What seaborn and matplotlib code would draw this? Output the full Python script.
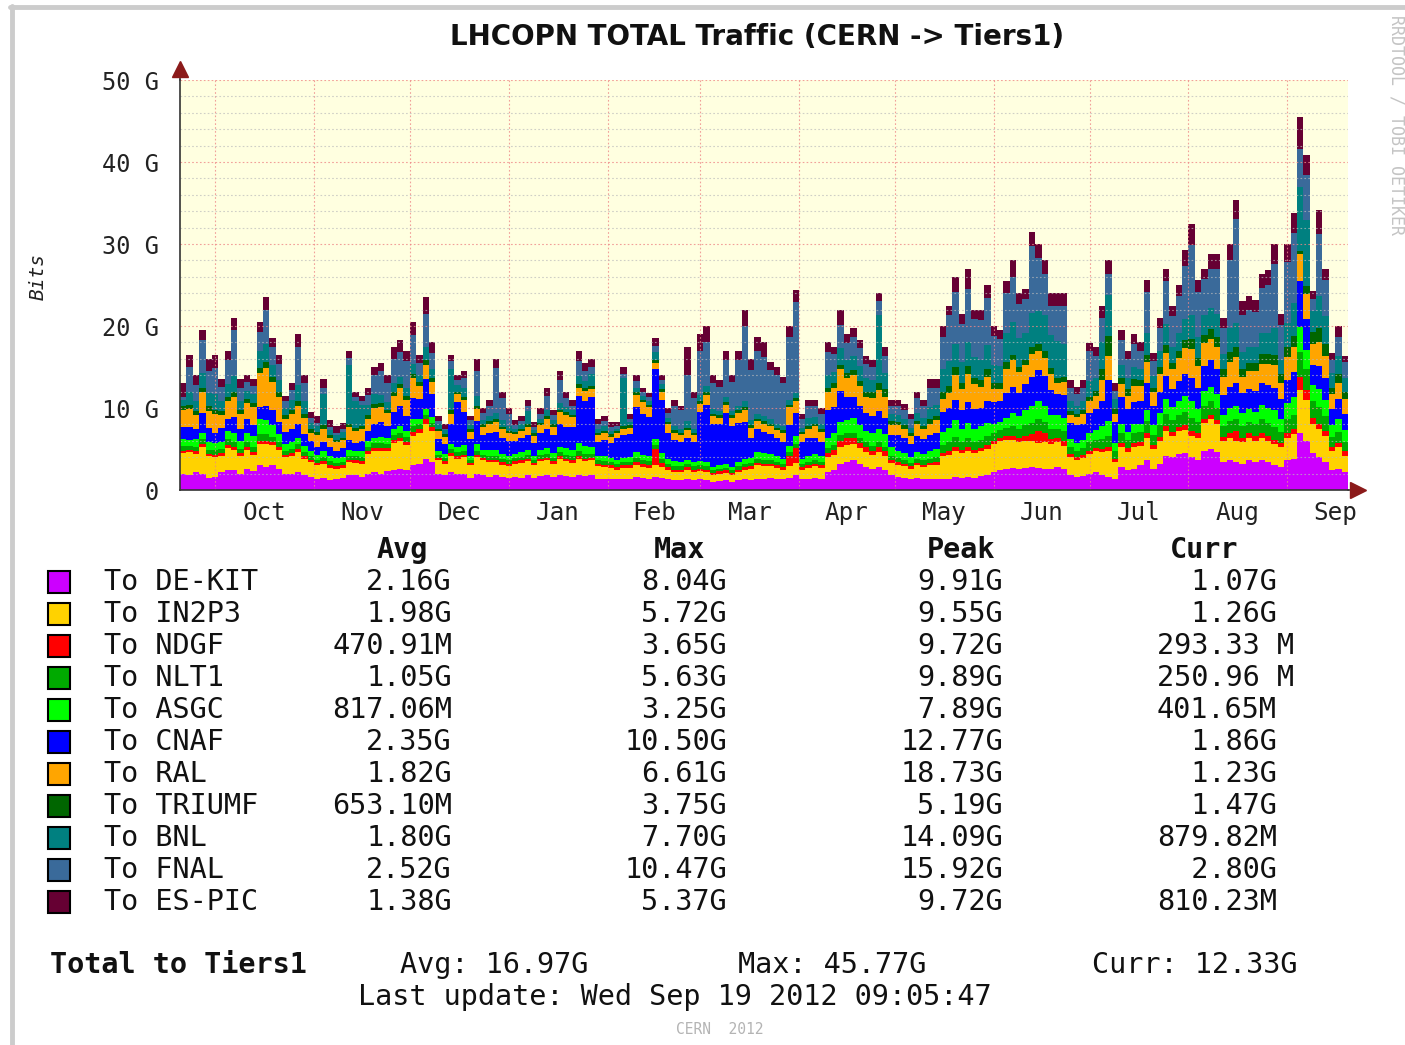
import numpy as np
import pandas as pd
import matplotlib
matplotlib.use("Agg")
import matplotlib.pyplot as plt
import seaborn as sns
from matplotlib.patches import Rectangle
from matplotlib.lines import Line2D

# ---- data, one value per 2 days (Gbit/s) starting 20 Sep 2011 ----
sites = ["DE-KIT", "IN2P3", "NDGF", "NLT1", "ASGC", "CNAF",
         "RAL", "TRIUMF", "BNL", "FNAL", "ES-PIC"]
colors = ["#CC00FF", "#FFD200", "#FF0000", "#00AA00", "#00FF00", "#0000FF",
          "#FFA500", "#006600", "#008080", "#3A6A9A", "#660033"]

de_kit = [2.0,1.8,2.2,2.0,1.5,1.6,2.2,2.5,2.4,2.0, 2.6,2.3,3.0,2.8,3.0,2.6,2.0,2.0,2.2,1.8,
          1.6,1.4,1.5,1.2,1.3,1.5,1.8,1.8,1.6,2.0, 2.2,2.0,2.3,2.5,2.6,2.5,3.0,3.2,3.8,3.4,
          2.0,1.8,2.2,2.0,2.0,1.5,2.0,1.8,1.6,1.8, 1.6,1.5,1.6,1.5,1.8,1.5,1.7,1.8,1.6,1.8,
          1.7,1.6,1.8,1.7,1.8,1.4,1.4,1.3,1.3,1.4, 1.4,1.6,1.5,1.4,1.6,1.5,1.3,1.2,1.2,1.3,
          1.2,1.3,1.2,1.0,1.1,1.2,1.0,1.2,1.3,1.2, 1.4,1.4,1.5,1.3,1.3,1.5,1.8,1.3,1.4,1.5,
          1.4,2.2,2.5,3.2,3.4,3.6,3.2,2.8,2.6,2.8, 2.5,1.8,1.6,1.5,1.4,1.5,1.4,1.4,1.3,1.3,
          1.4,1.6,1.5,1.6,1.5,1.7,1.8,2.2,2.4,2.6, 2.7,2.6,2.7,2.8,2.7,2.6,2.6,2.8,2.6,1.8,
          1.6,1.7,2.0,2.2,1.8,1.6,1.4,2.8,2.4,2.6, 3.0,3.6,2.6,3.2,4.2,4.0,4.4,4.5,4.0,3.6,
          4.8,5.0,4.6,3.4,3.6,3.4,3.2,3.6,3.4,3.6, 3.4,3.0,2.8,3.6,3.8,7.0,6.0,4.5,4.0,3.4,
          2.4,2.6,2.2]
in2p3 = [2.5,2.8,2.2,3.2,2.6,2.4,2.0,2.6,2.5,2.2, 2.3,2.0,2.6,2.8,2.5,2.3,2.0,2.2,2.4,2.0,
         1.8,1.6,1.7,1.5,1.3,1.2,1.6,1.5,1.6,2.4, 2.6,2.8,2.5,3.2,3.4,3.0,3.6,3.8,4.2,3.8,
         1.6,1.4,2.0,1.8,2.0,1.5,2.0,1.8,1.8,1.6, 1.5,1.4,1.6,1.8,1.7,1.5,1.8,1.8,1.6,2.0,
         1.8,1.7,2.0,1.8,1.8,1.5,1.4,1.4,1.2,1.3, 1.3,1.4,1.3,1.3,1.4,1.3,1.2,1.0,1.0,1.2,
         1.0,1.0,1.0,0.8,0.9,0.9,0.8,1.0,1.2,1.4, 1.6,1.5,1.4,1.4,1.2,1.4,1.5,1.2,1.3,1.4,
         1.3,1.8,1.8,2.0,2.1,2.0,1.9,1.8,1.7,1.8, 1.7,1.5,1.5,1.4,1.2,1.5,1.4,1.6,1.8,2.8,
         2.9,3.2,3.0,3.2,3.0,3.0,3.2,3.4,3.6,3.5, 3.4,3.2,3.3,3.2,3.0,3.2,3.0,3.0,2.8,2.2,
         2.0,2.2,2.4,2.5,2.8,3.2,2.0,2.4,2.2,2.6, 2.4,2.8,2.4,2.8,3.0,2.6,2.8,2.8,2.6,2.8,
         3.4,3.6,3.4,2.6,2.8,2.6,2.6,2.8,2.6,2.8, 2.6,2.6,2.4,2.8,3.0,5.2,5.0,3.5,3.5,3.2,
         2.4,2.6,2.0]
ndgf = [0.3,0.3,0.3,0.4,0.3,0.3,0.3,0.4,0.3,0.3, 0.3,0.3,0.4,0.4,0.3,0.3,0.3,0.3,0.4,0.3,
        0.3,0.3,0.3,0.3,0.3,0.3,0.3,0.3,0.3,0.3, 0.3,0.3,0.3,0.4,0.4,0.4,0.5,0.5,0.6,0.5,
        0.3,0.3,0.3,0.3,0.3,0.3,0.3,0.3,0.3,0.3, 0.3,0.3,0.3,0.3,0.3,0.3,0.3,0.3,0.3,0.3,
        0.3,0.3,0.3,0.3,0.3,0.3,0.3,0.3,0.3,0.3, 0.3,0.4,0.4,0.4,2.0,0.5,0.3,0.3,0.3,0.3,
        0.3,0.3,0.3,0.3,0.3,0.3,0.3,0.3,0.3,0.3, 0.3,0.3,0.3,0.3,0.3,1.2,1.8,0.3,0.3,0.3,
        0.3,0.5,0.6,0.8,0.8,0.7,0.6,0.6,0.5,0.6, 0.5,0.4,0.3,0.3,0.3,0.3,0.3,0.3,0.3,0.4,
        0.4,0.5,0.4,0.5,0.4,0.4,0.5,0.4,0.4,0.5, 0.5,0.5,0.6,0.8,1.5,1.2,0.6,0.5,0.6,0.4,
        0.4,0.4,0.4,0.4,0.4,0.4,0.4,0.5,0.5,0.5, 0.5,0.6,0.5,0.5,0.6,0.5,0.5,0.6,0.6,0.5,
        0.5,0.6,0.5,0.5,0.6,1.2,0.6,0.5,0.6,0.6, 0.6,0.5,0.5,0.6,0.6,1.6,1.2,0.8,0.6,0.6,
        0.5,0.5,0.5]
nlt1 = [0.6,0.5,0.6,0.6,0.5,0.6,0.5,0.7,0.6,0.5, 0.6,0.6,0.8,0.8,0.7,0.6,0.5,0.5,0.6,0.5,
        0.5,0.4,0.5,0.5,0.4,0.4,0.5,0.5,0.5,0.5, 0.6,0.6,0.5,0.6,0.6,0.6,0.7,0.5,0.6,0.5,
        0.4,0.4,0.5,0.5,0.5,0.4,0.5,0.4,0.5,0.5, 0.4,0.4,0.4,0.4,0.5,0.4,0.5,0.5,0.4,0.5,
        0.5,0.5,0.6,0.6,0.5,0.4,0.4,0.4,0.4,0.4, 0.4,0.5,0.5,0.4,0.5,0.5,0.4,0.4,0.4,0.4,
        0.4,0.4,0.4,0.3,0.3,0.3,0.3,0.4,0.4,0.4, 0.5,0.5,0.5,0.4,0.4,0.5,0.5,0.4,0.4,0.4,
        0.4,0.6,0.6,0.7,0.7,0.7,0.6,0.6,0.6,0.6, 0.6,0.5,0.5,0.5,0.4,0.5,0.5,0.5,0.6,1.0,
        1.1,1.2,1.0,1.1,1.0,1.0,1.1,0.9,0.9,1.0, 1.2,1.2,1.3,1.4,1.4,1.3,1.2,1.2,1.2,0.8,
        0.8,0.8,1.0,1.0,1.2,1.4,0.9,1.2,1.0,1.2, 1.2,1.4,1.2,1.4,1.5,1.4,1.4,1.6,1.6,1.4,
        1.6,1.6,1.5,1.3,1.4,1.4,1.4,1.4,1.4,1.6, 1.6,1.6,1.4,1.6,1.8,3.0,2.5,2.0,2.0,1.8,
        1.2,1.4,1.2]
asgc = [0.8,0.7,0.9,0.8,0.9,0.8,0.9,1.0,1.1,1.0, 1.2,1.4,1.8,1.7,1.4,1.0,0.8,0.9,0.8,0.8,
        0.6,0.6,0.7,0.7,0.6,0.6,0.7,0.6,0.8,0.8, 0.7,0.8,0.7,0.8,0.8,0.7,0.8,0.6,0.7,0.7,
        0.5,0.5,0.6,0.6,0.7,0.5,0.8,0.6,0.7,0.7, 0.6,0.6,0.5,0.6,0.6,0.5,0.6,0.7,0.6,0.7,
        0.8,0.8,1.0,1.0,0.9,0.5,0.6,0.5,0.5,0.5, 0.6,0.7,0.6,0.6,0.7,0.7,0.6,0.6,0.5,0.5,
        0.5,0.5,0.5,0.4,0.4,0.5,0.4,0.5,0.6,0.6, 0.8,0.8,0.7,0.7,0.6,0.8,1.0,0.6,0.7,0.8,
        0.7,1.2,1.4,1.6,1.5,1.8,1.6,1.4,1.6,1.6, 1.5,1.0,0.8,0.8,0.7,0.8,0.8,0.9,1.0,1.6,
        1.8,2.0,1.6,1.8,1.6,1.7,1.6,1.2,1.0,1.2, 1.6,1.5,1.8,2.0,2.2,2.0,1.8,1.6,1.6,1.0,
        0.9,1.0,1.2,1.2,1.6,1.8,1.0,1.2,1.0,1.2, 1.0,1.4,1.2,1.5,1.8,1.6,1.8,2.0,2.0,1.6,
        1.8,1.8,1.7,1.4,1.6,1.6,1.6,1.6,1.5,1.8, 1.8,2.0,1.6,2.0,2.2,3.1,2.4,2.0,2.2,2.0,
        1.4,1.6,1.4]
cnaf = [1.5,1.6,1.2,2.4,1.8,1.2,1.7,1.5,2.0,1.4, 1.6,1.3,1.5,1.8,1.8,1.5,1.5,1.6,1.7,1.4,
        1.2,1.0,1.2,1.0,0.9,1.1,1.2,1.0,1.2,1.2, 1.6,1.8,1.5,2.0,2.4,1.8,2.6,2.5,3.6,2.8,
        1.4,1.2,2.5,5.5,4.0,2.0,2.8,1.8,2.0,2.2, 2.0,1.8,1.6,1.7,1.8,1.5,2.0,2.4,2.2,2.8,
        2.6,2.8,5.8,5.5,6.0,1.8,2.0,1.8,2.6,2.8, 2.8,5.5,5.0,4.8,8.5,6.5,3.2,2.6,2.4,2.6,
        2.5,6.0,7.0,5.2,5.0,6.2,5.0,4.8,4.5,2.5, 2.8,2.6,2.4,2.2,2.0,2.5,2.8,2.0,2.2,2.0,
        1.8,3.5,3.2,3.8,2.8,2.6,2.4,2.2,2.0,2.2, 2.0,1.5,2.0,1.8,1.6,2.0,1.8,2.0,2.0,2.4,
        2.4,2.5,2.2,2.5,2.4,2.2,2.6,2.6,2.5,3.0, 3.2,2.8,3.2,3.6,3.8,3.6,3.0,2.6,2.8,2.0,
        2.2,2.0,2.4,2.6,3.0,5.0,2.6,3.2,2.8,2.6, 2.8,3.2,2.4,2.6,2.8,2.2,2.4,2.6,2.8,2.6,
        3.0,3.2,3.0,2.4,2.6,2.8,2.4,2.4,2.6,2.6, 2.8,2.8,2.4,2.8,3.0,5.6,3.8,2.5,2.8,2.6,
        2.0,2.4,2.0]
ral = [2.0,2.2,1.8,2.6,2.0,2.4,1.6,2.2,2.5,1.9, 2.0,2.2,4.2,4.6,3.5,3.0,1.5,1.8,2.2,2.0,
       1.0,1.4,1.6,1.2,1.0,1.0,1.6,1.5,1.4,1.5, 2.0,1.8,1.6,2.0,2.2,2.0,2.4,1.6,1.8,1.5,
       1.0,0.9,1.2,1.0,1.5,0.9,1.5,1.0,1.2,1.2, 1.0,0.9,0.8,0.9,1.0,0.9,1.0,1.2,1.0,1.4,
       1.5,1.2,1.0,1.2,1.0,0.8,0.8,0.8,0.6,0.8, 0.8,1.5,1.4,1.2,0.8,1.0,1.0,0.9,0.9,1.0,
       0.8,1.0,1.2,1.0,0.8,1.0,1.0,1.2,1.5,1.2, 1.0,1.0,1.0,1.0,1.2,2.2,1.5,1.0,1.2,1.4,
       1.2,2.2,2.4,2.6,2.4,2.6,2.4,2.0,2.2,2.6, 2.6,1.2,1.2,1.2,1.0,1.4,1.2,1.4,1.5,1.6,
       1.8,3.0,2.6,3.5,3.0,2.6,3.0,1.6,1.5,3.0, 3.2,2.6,2.4,2.8,2.4,2.2,2.0,1.4,1.6,1.0,
       1.0,1.2,1.4,1.6,2.6,3.0,1.0,1.6,1.6,2.0, 1.8,2.6,1.6,2.2,2.8,2.4,2.8,3.2,3.6,2.6,
       2.8,2.6,2.8,2.2,3.0,3.2,2.0,2.2,2.4,2.4, 2.6,2.8,2.0,2.8,3.0,3.3,3.0,2.5,3.0,2.8,
       1.8,2.0,1.8]
triumf = [0.5,0.5,0.4,0.5,0.6,0.5,0.4,0.5,0.5,0.4, 0.5,0.5,0.6,0.7,0.6,0.6,0.5,0.5,0.5,0.5,
          0.4,0.4,0.4,0.3,0.3,0.3,0.4,0.4,0.4,0.4, 0.5,0.5,0.4,0.5,0.5,0.5,0.6,0.5,0.6,0.5,
          0.3,0.3,0.4,0.3,0.4,0.3,0.4,0.3,0.3,0.3, 0.3,0.3,0.3,0.3,0.3,0.3,0.3,0.3,0.3,0.3,
          0.3,0.3,0.4,0.4,0.4,0.3,0.3,0.3,0.3,0.3, 0.3,0.3,0.3,0.3,0.3,0.3,0.3,0.3,0.3,0.3,
          0.3,0.3,0.3,0.3,0.3,0.3,0.3,0.3,0.3,0.3, 0.3,0.3,0.3,0.3,0.3,0.3,0.3,0.3,0.3,0.3,
          0.3,0.5,0.5,0.6,0.6,0.6,0.6,0.6,0.7,0.8, 0.9,0.5,0.4,0.4,0.3,0.4,0.4,0.5,0.5,0.8,
          0.9,1.0,0.8,0.9,0.8,0.8,0.9,0.8,0.8,0.8, 0.7,0.6,0.6,0.8,0.8,0.8,0.7,0.6,0.6,0.4,
          0.4,0.4,0.5,0.6,1.4,2.4,0.6,0.8,0.8,0.8, 0.7,0.9,0.6,0.8,1.0,0.8,0.9,1.0,1.2,1.0,
          1.0,1.2,1.2,1.0,1.2,1.2,1.0,1.0,1.0,1.2, 1.2,1.2,1.0,1.2,1.4,0.3,1.0,1.5,1.6,1.4,
          0.8,1.0,0.8]
bnl = [0.8,1.5,1.2,1.8,1.6,1.9,1.2,1.5,2.0,1.2, 1.0,1.1,2.0,2.2,1.5,1.5,0.9,1.2,2.0,1.6,
       0.8,0.7,3.8,0.6,0.6,0.7,7.2,3.2,2.6,1.3, 1.2,1.0,0.9,1.0,0.9,1.0,1.2,0.8,1.5,1.0,
       0.6,0.5,5.0,0.8,1.0,0.5,1.2,0.5,0.6,0.8, 0.8,0.6,0.4,0.5,1.6,0.4,0.5,0.7,0.5,0.8,
       0.6,0.5,1.0,0.8,1.5,0.5,0.6,0.4,0.3,5.8, 0.4,0.6,0.5,0.5,1.0,0.6,0.5,0.5,0.5,0.8,
       0.5,0.8,0.8,0.6,0.5,0.6,0.5,0.6,0.8,0.6, 0.6,0.6,0.5,0.5,0.5,0.6,0.6,0.5,1.0,0.8,
       0.7,1.5,1.4,2.0,1.6,1.8,1.8,1.6,1.5,8.4, 2.0,0.9,0.8,0.8,0.7,1.0,1.0,1.5,1.4,2.8,
       3.0,2.8,2.5,3.0,2.5,2.5,3.0,2.2,2.0,3.5, 4.0,3.5,3.2,4.2,4.0,4.5,4.0,4.5,4.0,1.2,
       1.0,1.2,2.0,1.6,3.2,5.0,1.2,1.6,1.4,1.5, 1.4,2.6,1.4,2.0,2.6,2.0,2.2,2.6,3.0,2.6,
       2.4,2.6,2.8,1.8,3.0,3.0,2.0,2.0,2.0,2.6, 2.6,3.2,1.8,3.0,4.0,7.9,8.0,2.5,4.0,3.4,
       1.8,2.2,1.8]
fnal = [0.4,3.1,2.0,4.0,2.7,3.2,1.8,2.9,5.6,1.6, 1.1,1.0,2.4,4.2,2.2,2.0,0.8,1.2,4.7,2.1,
        0.6,0.4,0.8,0.4,0.3,0.3,0.8,0.5,0.4,1.2, 2.3,2.9,2.4,3.0,3.0,3.2,3.5,1.5,4.1,2.0,
        0.3,0.2,1.0,0.6,1.3,0.6,3.0,0.9,1.3,5.5, 2.7,1.5,0.4,0.4,0.7,0.4,0.6,1.8,0.6,2.8,
        1.1,0.6,1.8,1.2,0.8,0.6,0.6,0.5,0.3,0.6, 0.4,0.8,0.5,0.4,0.8,0.5,0.6,2.5,2.2,5.6,
        3.7,5.4,5.3,3.2,3.0,4.5,3.6,5.5,9.1,6.1, 7.6,7.2,6.0,5.9,5.2,7.6,11.1,1.0,1.4,1.3,
        1.2,2.8,2.2,2.8,2.0,2.2,2.2,1.8,1.6,1.6, 2.0,1.0,1.2,1.1,1.1,1.8,1.4,2.4,2.1,4.0,
        5.6,6.4,4.7,6.4,4.6,4.8,5.7,3.5,3.3,4.9, 5.5,4.2,4.2,8.1,6.5,5.0,3.6,4.3,4.7,1.6,
        1.4,1.5,3.6,2.6,3.0,2.6,1.0,3.0,2.3,2.8, 2.2,5.0,1.8,2.8,5.2,3.7,4.4,6.4,8.5,5.4,
        4.4,4.8,5.5,3.2,8.2,12.6,4.6,4.4,4.2,5.4, 5.8,7.9,4.2,7.4,8.5,4.6,5.5,1.5,7.5,4.4,
        1.6,2.4,1.9]
es_pic = [1.6,1.5,1.2,1.2,1.5,1.6,0.9,1.2,1.5,1.0, 0.8,0.8,1.2,1.5,1.0,1.1,0.7,0.8,1.5,1.0,
          0.7,0.8,1.0,0.8,0.8,0.8,0.9,0.7,0.7,0.9, 1.0,1.0,0.9,1.5,1.5,1.3,1.6,1.0,2.0,1.3,
          0.6,0.5,0.8,0.6,0.8,0.5,1.5,0.6,0.7,1.1, 0.8,0.7,0.6,0.6,0.7,0.6,0.7,1.0,0.7,1.1,
          0.8,0.7,1.3,1.0,1.0,0.6,0.6,0.6,0.5,0.8, 0.6,0.7,0.5,0.5,0.9,0.6,0.6,0.7,0.6,3.5,
          0.8,2.0,2.0,0.9,0.8,1.2,0.8,1.2,2.0,1.4, 1.8,1.8,1.0,1.0,0.8,1.4,1.5,0.7,0.8,0.8,
          0.7,1.2,0.9,1.9,1.1,1.2,1.0,0.9,0.8,1.0, 1.2,0.7,0.7,0.7,0.6,0.8,0.8,1.0,1.0,1.3,
          1.2,1.8,1.2,2.5,1.2,1.3,1.6,1.2,1.1,1.5, 2.0,1.3,1.2,1.8,1.7,1.6,1.5,1.5,1.5,1.0,
          0.9,1.0,1.0,1.2,1.4,1.6,0.9,1.2,1.0,1.2, 1.0,1.5,1.0,1.2,1.5,1.2,1.4,2.0,2.6,1.5,
          1.3,1.8,1.8,1.2,2.0,2.4,1.6,1.7,1.5,1.8, 1.8,2.4,1.4,2.2,2.5,3.9,2.4,1.0,3.0,1.4,
          0.8,1.3,0.8]

# legend table texts
avg_txt = ["2.16G", "1.98G", "470.91M", "1.05G", "817.06M", "2.35G",
           "1.82G", "653.10M", "1.80G", "2.52G", "1.38G"]
max_txt = ["8.04G", "5.72G", "3.65G", "5.63G", "3.25G", "10.50G",
           "6.61G", "3.75G", "7.70G", "10.47G", "5.37G"]
peak_txt = ["9.91G", "9.55G", "9.72G", "9.89G", "7.89G", "12.77G",
            "18.73G", "5.19G", "14.09G", "15.92G", "9.72G"]
curr_txt = ["1.07G", "1.26G", "293.33 M", "250.96 M", "401.65M", "1.86G",
            "1.23G", "1.47G", "879.82M", "2.80G", "810.23M"]
months = ["Oct", "Nov", "Dec", "Jan", "Feb", "Mar", "Apr", "May", "Jun", "Jul", "Aug", "Sep"]
ytick_txt = ["0", "10 G", "20 G", "30 G", "40 G", "50 G"]

series = [de_kit, in2p3, ndgf, nlt1, asgc, cnaf, ral, triumf, bnl, fnal, es_pic]
n = len(de_kit)
for s in series:
    assert len(s) == n, len(s)

start = pd.Timestamp("2011-09-20")
step = 2
day = np.arange(n) * step + step / 2   # bin centres in days since start

long = pd.DataFrame({
    "day": np.tile(day, len(sites)),
    "bits": np.concatenate(series),
    "site": np.repeat(sites, n),
})
palette = dict(zip(sites, colors))

# ---- figure ----
sns.set_theme(style="white")
plt.rcParams["font.family"] = ["DejaVu Sans Mono", "DejaVu Sans"]

W, H = 1405, 1045
fig = plt.figure(figsize=(W / 100, H / 100), dpi=100)
fig.patch.set_facecolor("white")


def fx(x):
    return x / W


def fy(y):
    return 1 - y / H


ax = fig.add_axes([fx(180), fy(490), (1348 - 180) / W, (490 - 80) / H])
ax.set_facecolor("#FFFFE0")

# seaborn stacks the first hue level on top, so feed the order reversed
sns.histplot(data=long, x="day", weights="bits", hue="site",
             hue_order=sites[::-1], palette=palette, multiple="stack",
             bins=n, binrange=(0, n * step), element="step", fill=True,
             alpha=1, linewidth=0, legend=False, ax=ax)

ax.set_xlim(0, n * step)
ax.set_ylim(0, 50)
ax.set_xlabel("")
ax.set_ylabel("")

# months: grid at month start, label in the middle of the month
mstarts = pd.date_range("2011-10-01", "2012-09-01", freq="MS")
sdays = np.array((mstarts - start).days, dtype=float)
mids = sdays + mstarts.days_in_month.values / 2
ax.set_xticks(sdays)
ax.set_xticklabels([])
ax.set_xticks(mids, minor=True)
ax.set_xticklabels(months, minor=True, fontsize=17.5, color="#222222")
ax.tick_params(axis="x", which="minor", length=0, pad=8)
ax.tick_params(axis="x", which="major", length=4, color="#E07070", direction="out")

ax.set_yticks(np.arange(0, 51, 10))
ax.set_yticklabels(ytick_txt, fontsize=17, color="#222222")
ax.set_yticks(np.arange(0, 51, 2), minor=True)
ax.tick_params(axis="y", which="both", length=4, pad=11, direction="out")
ax.tick_params(axis="y", which="major", color="#E07070")
ax.tick_params(axis="y", which="minor", color="#BBBBBB")

# rrdtool draws its dotted grid over the data
ax.set_axisbelow(False)
ax.grid(axis="x", which="major", color="#EE8888", linestyle=(0, (1.5, 2)), linewidth=0.8, alpha=0.8)
ax.grid(axis="y", which="major", color="#EE8888", linestyle=(0, (1.5, 2)), linewidth=0.8, alpha=0.8)
ax.grid(axis="y", which="minor", color="#BBBBBB", linestyle=(0, (1.5, 2)), linewidth=0.8, alpha=0.7)

for side in ["top", "right"]:
    ax.spines[side].set_visible(False)
for side in ["left", "bottom"]:
    ax.spines[side].set_color("#333333")
    ax.spines[side].set_linewidth(1.2)
    ax.spines[side].set_zorder(3)

# axis arrows like rrdtool
ax.plot([n * step, n * step + 2.5], [0, 0], color="#333333", lw=1.2, clip_on=False)
ax.plot([0, 0], [50, 50.8], color="#333333", lw=1.2, clip_on=False)
ax.plot([0], [51.3], marker="^", ms=11, color="#8B1A1A", clip_on=False)
ax.plot([n * step + 3.2], [0], marker=">", ms=11, color="#8B1A1A", clip_on=False)

# title and side texts
fig.text(fx(757), fy(37), "LHCOPN TOTAL Traffic (CERN -> Tiers1)", family="DejaVu Sans",
         weight="bold", fontsize=20, ha="center", va="center", color="#111111")
fig.text(fx(38), fy(276), "Bits", rotation=90, fontsize=14, style="oblique",
         ha="center", va="center", color="#222222")
fig.text(fx(1397), fy(15), "RRDTOOL / TOBI OETIKER", rotation=270, fontsize=12,
         ha="center", va="top", color="#C4C4C4")

# legend table
fs = 20.5
hy = 550
for label, cx in [("Avg", 402), ("Max", 679), ("Peak", 961), ("Curr", 1204)]:
    fig.text(fx(cx), fy(hy), label, fontsize=fs, weight="bold", ha="center", va="center",
             color="#111111")

for k, site in enumerate(sites):
    y = 582 + 32 * k
    fig.patches.append(Rectangle((fx(48), fy(y + 11)), 22 / W, 22 / H,
                                 transform=fig.transFigure, facecolor=colors[k],
                                 edgecolor="black", linewidth=1.5))
    fig.text(fx(104), fy(y), "To " + site, fontsize=fs, ha="left", va="center", color="#111111")
    fig.text(fx(452), fy(y), avg_txt[k], fontsize=fs, ha="right", va="center", color="#111111")
    fig.text(fx(727), fy(y), max_txt[k], fontsize=fs, ha="right", va="center", color="#111111")
    fig.text(fx(1003), fy(y), peak_txt[k], fontsize=fs, ha="right", va="center", color="#111111")
    fig.text(fx(1157), fy(y), curr_txt[k].rjust(7), fontsize=fs, ha="left", va="center",
             color="#111111")

fig.text(fx(50), fy(965), "Total to Tiers1", fontsize=fs, weight="bold", ha="left",
         va="center", color="#111111")
fig.text(fx(400), fy(965), "Avg: 16.97G", fontsize=fs, ha="left", va="center", color="#111111")
fig.text(fx(738), fy(965), "Max: 45.77G", fontsize=fs, ha="left", va="center", color="#111111")
fig.text(fx(1092), fy(965), "Curr: 12.33G", fontsize=fs, ha="left", va="center", color="#111111")
fig.text(fx(675), fy(997), "Last update: Wed Sep 19 2012 09:05:47", fontsize=fs,
         ha="center", va="center", color="#111111")
fig.text(fx(720), fy(1029), "CERN  2012", fontsize=10.5, ha="center", va="center",
         color="#B4B4B4")

# grey frame at top and left
fig.add_artist(Line2D([fx(12), fx(12)], [fy(6), 0], color="#CCCCCC", lw=3.5))
fig.add_artist(Line2D([fx(10), 1], [fy(7), fy(7)], color="#CCCCCC", lw=3.5))

fig.savefig("out.png", dpi=100)
